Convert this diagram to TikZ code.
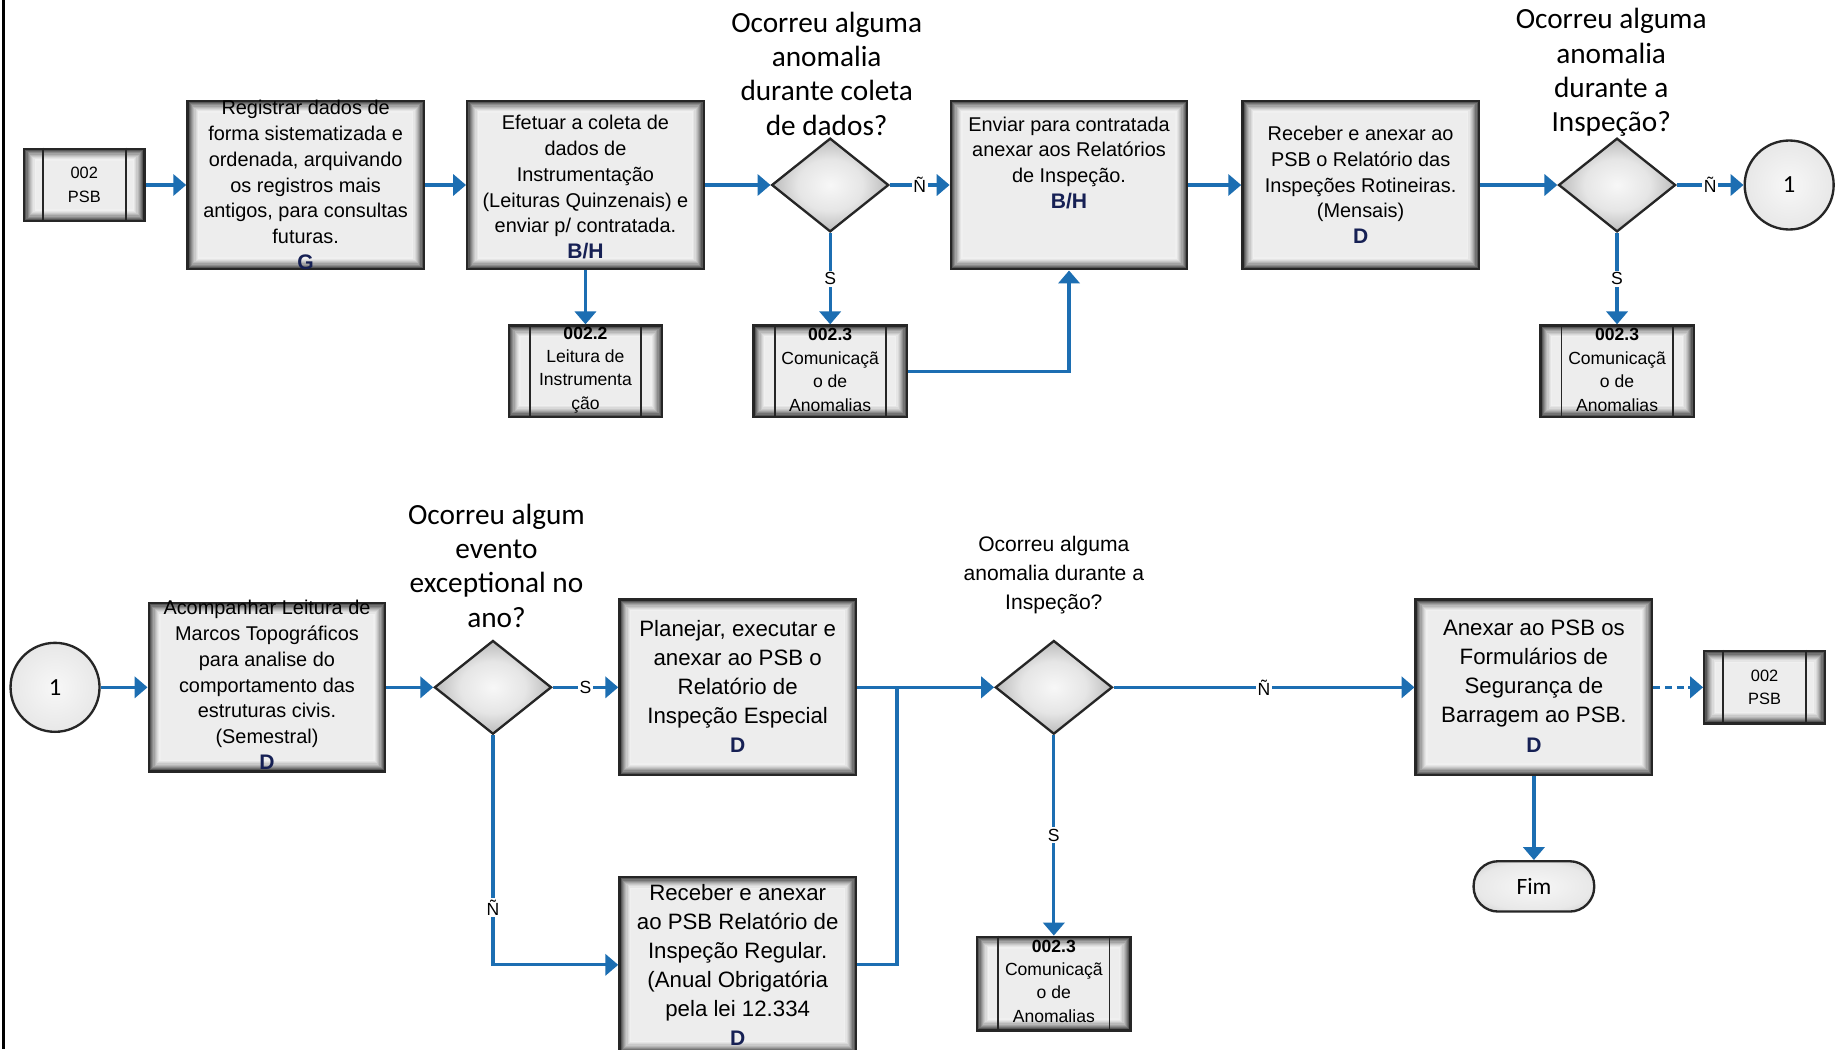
\documentclass[tikz,border=0pt]{standalone}
\usepackage{fontspec}
\setmainfont{Liberation Sans}
\newfontfamily\calib{Carlito}
\usetikzlibrary{shapes.geometric,arrows.meta,calc}
\definecolor{flowblue}{RGB}{28,110,178}
\definecolor{rolenavy}{RGB}{22,32,84}
\pgfdeclareradialshading{diashade}{\pgfpoint{0bp}{0bp}}{color(0bp)=(white!97!black); color(14bp)=(white!90!black); color(26bp)=(white!72!black); color(34bp)=(white!52!black); color(50bp)=(white!35!black)}
\pgfdeclareradialshading{circshade}{\pgfpoint{0bp}{0bp}}{color(0bp)=(white!97!black); color(24bp)=(white!91!black); color(38bp)=(white!76!black); color(46bp)=(white!58!black); color(50bp)=(white!45!black)}
\newcommand{\rolem}[1]{{\color{rolenavy}\fontsize{18}{22}\selectfont\bfseries #1}}
\newcommand{\sublines}[2]{\draw[subline] ([xshift=#2]#1.north west) -- ([xshift=#2]#1.south west) ([xshift=-#2]#1.north east) -- ([xshift=-#2]#1.south east);}
\tikzset{
  innershadow/.style={fill=black!7, path picture={
    \foreach \i/\c in {0/78,1/66,2/55,3/45,4/36,5/28,6/21,7/15,8/10,9/6}{
      \draw[black!\c, line width=1.2pt] ([shift={(\i*1pt+0.6pt,-\i*1pt-0.6pt)}]path picture bounding box.north west) rectangle ([shift={(-\i*1pt-0.6pt,\i*1pt+0.6pt)}]path picture bounding box.south east);}}},
  procbox/.style={rectangle, draw=black!85, line width=2pt, innershadow, minimum width=202pt, minimum height=144pt, inner sep=0pt},
  subbox/.style={procbox, minimum width=131pt, minimum height=78pt},
  psbbox/.style={procbox, minimum width=103pt, minimum height=62pt, align=center, font=\fontsize{14}{20}\selectfont},
  subline/.style={draw=black!85, line width=1.6pt},
  decbox/.style={diamond, draw=black!85, line width=2pt, shading=diashade, minimum width=100pt, minimum height=80pt, inner sep=0pt},
  connc/.style={circle, draw=black!85, line width=2pt, shading=circshade, minimum size=76pt, inner sep=0pt, font=\calib\fontsize{21}{24}\selectfont},
  termbox/.style={rectangle, rounded corners=21pt, draw=black!85, line width=2pt, shading=circshade, minimum width=103pt, minimum height=43pt, inner sep=0pt, font=\calib\fontsize{20}{24}\selectfont},
  boxtxt/.style={align=center, font=\fontsize{17}{22}\selectfont, inner sep=0pt},
  bigtxt/.style={align=center, font=\fontsize{19}{24.8}\selectfont, inner sep=0pt},
  smalltxt/.style={align=center, font=\fontsize{15}{20}\selectfont, inner sep=0pt},
  question/.style={align=center, font=\calib\fontsize{25}{29.3}\selectfont, inner sep=0pt},
  question2/.style={align=center, font=\fontsize{18}{25}\selectfont, inner sep=0pt},
  flow/.style={draw=flowblue, line width=2.8pt, -{Triangle[length=11pt,width=18pt]}},
  flowline/.style={draw=flowblue, line width=2.8pt},
  yn/.style={fill=white, inner sep=1.5pt, font=\fontsize{15}{16}\selectfont},
}
\begin{document}
\begin{tikzpicture}[x=1pt,y=-1pt]
\useasboundingbox (0,0) rectangle (1568,896);
\fill[white] (0,0) rectangle (1568,896);
\draw[line width=2.5pt] (3,0) -- (3,896);

% ---------- top row ----------
\node[psbbox] (psbA) at (72,158) {002\\PSB};
\sublines{psbA}{17pt}

\node[procbox] (A) at (261,158) {};
\node[boxtxt] (At) at (261,158) {Registrar dados de\\forma sistematizada e\\ordenada, arquivando\\os registros mais\\antigos, para consultas\\futuras.\\\rolem{G}};

\node[procbox] (B) at (500,158) {};
\node[boxtxt] (Bt) at (500,160) {Efetuar a coleta de\\dados de\\Instrumentação\\(Leituras Quinzenais) e\\enviar p/ contratada.\\\rolem{B/H}};

\node[subbox] (b22) at (500,317) {};
\sublines{b22}{19pt}
\node[smalltxt] (b22t) at (500,316) {\textbf{002.2}\\Leitura de\\Instrumenta\\ção};

\node[decbox] (D1) at (709,158) {};
\node[question] (Q1) at (706,63) {Ocorreu alguma\\anomalia\\durante coleta\\de dados?};

\node[subbox] (c1) at (709,317) {};
\sublines{c1}{19pt}
\node[smalltxt] (c1t) at (709,316) {\textbf{002.3}\\Comunicaçã\\o de\\Anomalias};

\node[procbox] (C) at (913,158) {};
\node[boxtxt] (Ct) at (913,139) {Enviar para contratada\\anexar aos Relatórios\\de Inspeção.\\\rolem{B/H}};

\node[procbox] (E) at (1162,158) {};
\node[boxtxt] (Et) at (1162,158) {Receber e anexar ao\\PSB o Relatório das\\Inspeções Rotineiras.\\(Mensais)\\\rolem{D}};

\node[decbox] (D2) at (1381,158) {};
\node[question] (Q2) at (1376,62) {Ocorreu alguma\\anomalia\\durante a\\Inspeção?};

\node[connc] (cir1) at (1528,158) {1};

\node[subbox] (c2) at (1381,317) {};
\sublines{c2}{19pt}
\node[smalltxt] (c2t) at (1381,316) {\textbf{002.3}\\Comunicaçã\\o de\\Anomalias};

% ---------- bottom row ----------
\node[connc] (cir2) at (47,587) {1};

\node[procbox] (F) at (228,587) {};
\node[boxtxt] (Ft) at (228,585) {Acompanhar Leitura de\\Marcos Topográficos\\para analise do\\comportamento das\\estruturas civis.\\(Semestral)\\\rolem{D}};

\node[decbox] (D3) at (421,587) {};
\node[question] (Q3) at (424,483) {Ocorreu algum\\evento\\exceptional no\\ano?};

\node[procbox, minimum height=150pt] (G) at (630,587) {};
\node[bigtxt] (Gt) at (630,586) {Planejar, executar e\\anexar ao PSB o\\Relatório de\\Inspeção Especial\\\rolem{D}};

\node[procbox, minimum height=150pt] (H) at (630,824) {};
\node[bigtxt] (Ht) at (630,824) {Receber e anexar\\ao PSB Relatório de\\Inspeção Regular.\\(Anual Obrigatória\\pela lei 12.334\\\rolem{D}};

\node[decbox] (D4) at (900,587) {};
\node[question2] (Q4) at (900,491) {Ocorreu alguma\\anomalia durante a\\Inspeção?};

\node[subbox, minimum height=80pt] (c3) at (900,840) {};
\sublines{c3}{19pt}
\node[smalltxt] (c3t) at (900,838) {\textbf{002.3}\\Comunicaçã\\o de\\Anomalias};

\node[procbox, minimum height=150pt] (I) at (1310,587) {};
\node[bigtxt] (It) at (1310,586) {Anexar ao PSB os\\Formulários de\\Segurança de\\Barragem ao PSB.\\\rolem{D}};

\node[psbbox] (psbB) at (1507,587) {002\\PSB};
\sublines{psbB}{17pt}

\node[termbox] (Fim) at (1310,757) {Fim};

% ---------- connectors ----------
\draw[flow] (psbA) -- (A);
\draw[flow] (A) -- (B);
\draw[flow] (B) -- (b22);
\draw[flow] (B) -- (D1);
\draw[flow] (D1) -- node[yn]{Ñ} (C);
\draw[flow] (D1) -- node[yn]{S} (c1);
\draw[flow] (c1.east) -| (C.south);
\draw[flow] (C) -- (E);
\draw[flow] (E) -- (D2);
\draw[flow] (D2) -- node[yn]{Ñ} (cir1);
\draw[flow] (D2) -- node[yn]{S} (c2);

\draw[flow] (cir2) -- (F);
\draw[flow] (F) -- (D3);
\draw[flow] (D3) -- node[yn]{S} (G);
\draw[flow] (D3) |- node[yn,pos=0.375]{Ñ} (H.west);
\coordinate (jn) at (766,587);
\draw[flow] (G) -- (D4);
\draw[flowline] (H.east) -| (jn);
\draw[flow] (D4) -- node[yn]{Ñ} (I);
\draw[flow] (D4) -- node[yn]{S} (c3);
\draw[flow, dash pattern=on 6pt off 4pt] (I) -- (psbB);
\draw[flow] (I) -- (Fim);
\end{tikzpicture}
\end{document}
